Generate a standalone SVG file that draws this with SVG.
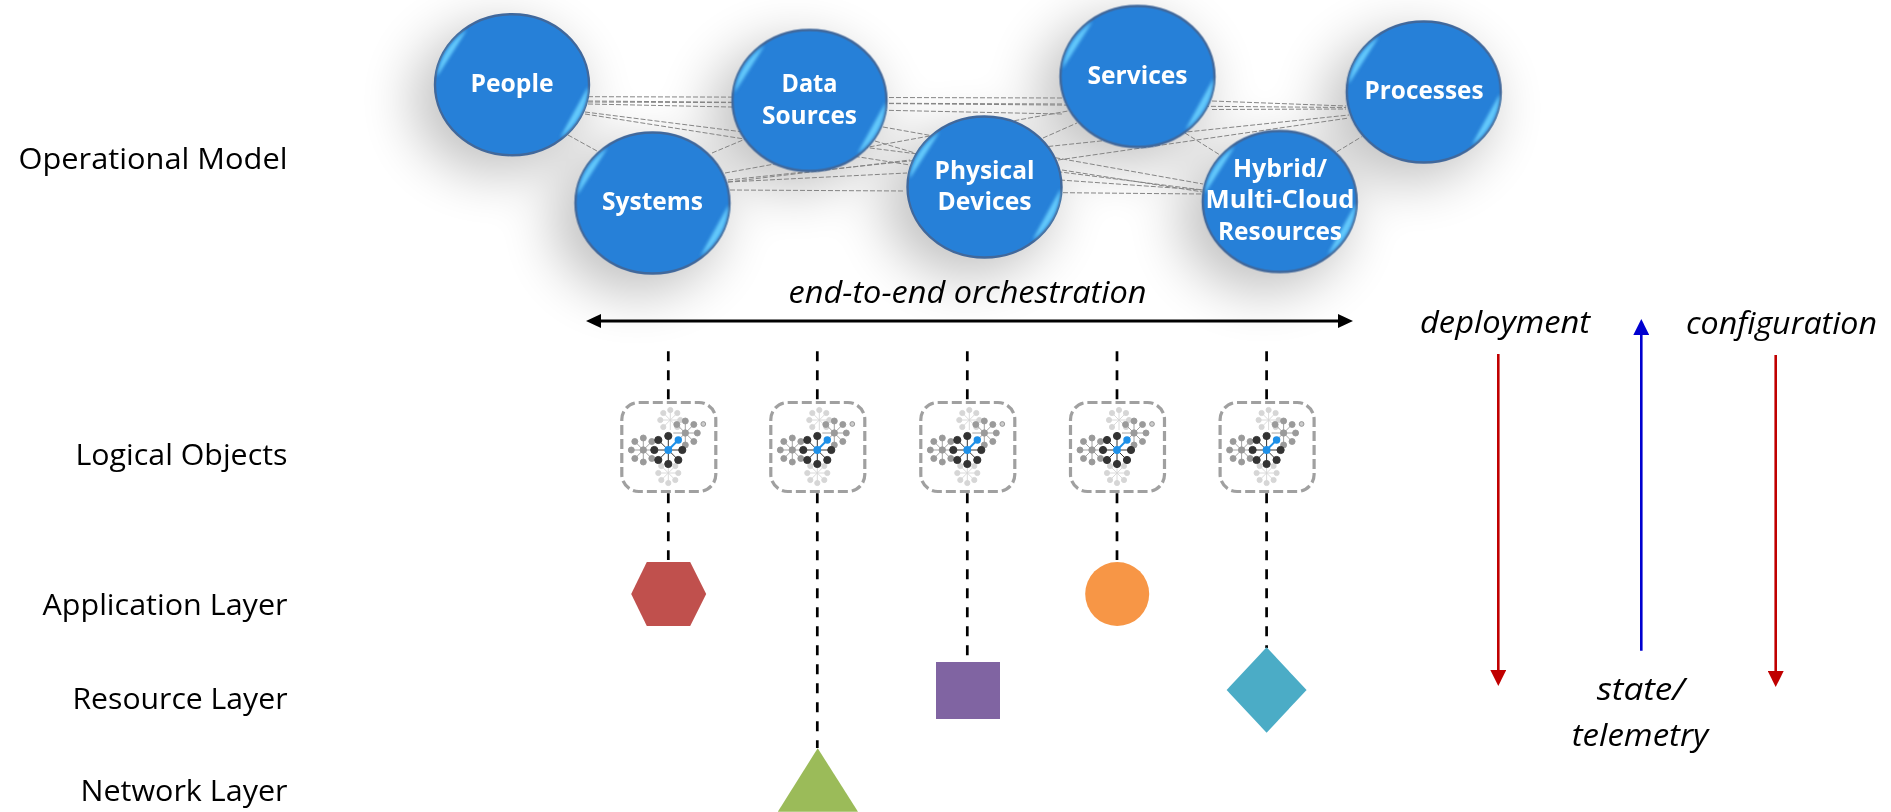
<svg xmlns="http://www.w3.org/2000/svg" xmlns:xlink="http://www.w3.org/1999/xlink" width="1891" height="812" viewBox="0 0 1891 812">
<style>
text{font-family:"Open Sans","Noto Sans","DejaVu Sans",sans-serif}
.lbl{font-size:30px;fill:#000;text-anchor:end}
.it{font-size:31px;font-style:italic;fill:#000}
.nt{font-size:25px;font-weight:700;fill:#fff;text-anchor:middle}
.mesh line{stroke:#858585;stroke-width:1;stroke-dasharray:5 2;fill:none}
.drop{stroke:#000;stroke-width:2.7;stroke-dasharray:10 9;fill:none}
.orb{fill:#2680d8;stroke:#41689b;stroke-width:2.4}
.shine{fill:#6ad0ff;opacity:.9}
.dk{fill:#333;stroke:#333}.md{fill:#9a9a9a;stroke:#9a9a9a}.lt{fill:#d6d6d6;stroke:#d6d6d6}
</style>
<defs>
<filter id="soft" x="-80%" y="-80%" width="260%" height="260%"><feGaussianBlur stdDeviation="27"/></filter>
<filter id="glow" x="-30%" y="-30%" width="160%" height="160%"><feGaussianBlur stdDeviation="1.5"/></filter>
<marker id="hRed" markerUnits="userSpaceOnUse" markerWidth="16" markerHeight="16" refX="0" refY="8" orient="auto"><path d="M0 0L16 8L0 16Z" fill="#c00000"/></marker>
<marker id="hBlue" markerUnits="userSpaceOnUse" markerWidth="16" markerHeight="16" refX="0" refY="8" orient="auto"><path d="M0 0L16 8L0 16Z" fill="#0000d0"/></marker>
<marker id="hBlack" markerUnits="userSpaceOnUse" markerWidth="16" markerHeight="16" refX="0" refY="8" orient="auto-start-reverse"><path d="M0 1L15 8L0 15Z" fill="#000"/></marker>
<g id="orb">
<ellipse class="orb" rx="77" ry="70.5"/>
<g filter="url(#glow)">
<path class="shine" d="M-75-8A75 68 0 0 1-45-55Q-57-36-75-8Z"/>
<path class="shine" d="M76 2A75 68 0 0 1 48 53Q61 29 76 2Z"/>
</g>
</g>
<g id="obj">
<rect x="-46.5" y="-44.5" width="94" height="89" rx="17" fill="#fff" stroke="#a0a0a0" stroke-width="3.2" stroke-dasharray="10 4"/>
<g class="lt" transform="translate(2,-27)" stroke-width="0.9"><path d="M0-10V10M-10 0H10M-7-7L7 7M-7 7L7-7" fill="none"/><circle r="2.6" cx="0" cy="-10"/><circle r="2.6" cx="7" cy="-7"/><circle r="2.6" cx="10" cy="0"/><circle r="2.6" cx="7" cy="7"/><circle r="2.6" cx="-7" cy="7"/><circle r="2.6" cx="-10" cy="0"/><circle r="2.6" cx="-7" cy="-7"/></g>
<g class="lt" transform="translate(0,26)" stroke-width="0.9"><path d="M0-10V10M-10 0H10M-7-7L7 7M-7 7L7-7" fill="none"/><circle r="2.6" cx="7" cy="-7"/><circle r="2.6" cx="10" cy="0"/><circle r="2.6" cx="7" cy="7"/><circle r="2.6" cx="0" cy="10"/><circle r="2.6" cx="-7" cy="7"/><circle r="2.6" cx="-10" cy="0"/><circle r="2.6" cx="-7" cy="-7"/></g>
<g class="md" transform="translate(-25,3)" stroke-width="0.9"><path d="M0-12V12M-12 0H12M-8.5-8.5L8.5 8.5M-8.5 8.5L8.5-8.5" fill="none"/><circle r="3" cx="0" cy="-12"/><circle r="3" cx="8.5" cy="-8.5"/><circle r="3" cx="8.5" cy="8.5"/><circle r="3" cx="0" cy="12"/><circle r="3" cx="-8.5" cy="8.5"/><circle r="3" cx="-12" cy="0"/><circle r="3" cx="-8.5" cy="-8.5"/><circle r="3.2" cx="0" cy="0"/></g>
<g class="md" transform="translate(17,-14)" stroke-width="0.9"><path d="M0-12V12M-12 0H12M-8.5-8.5L8.5 8.5M-8.5 8.5L8.5-8.5" fill="none"/><circle r="3" cx="0" cy="-12"/><circle r="3" cx="8.5" cy="-8.5"/><circle r="3" cx="12" cy="0"/><circle r="3" cx="8.5" cy="8.5"/><circle r="3" cx="0" cy="12"/><circle r="3" cx="-8.5" cy="-8.5"/><circle r="3.2" cx="0" cy="0"/></g>
<g class="dk" transform="translate(0,3)" stroke-width="1"><circle r="13" fill="#fff" stroke="none"/><path d="M0-14V14M-14 0H14M-10-10L10 10M-10 10L0 0" fill="none"/><circle r="3.6" cx="0" cy="-14"/><circle r="3.6" cx="14" cy="0"/><circle r="3.6" cx="10" cy="10"/><circle r="3.6" cx="0" cy="14"/><circle r="3.6" cx="-10" cy="10"/><circle r="3.6" cx="-14" cy="0"/><circle r="3.6" cx="-10" cy="-10"/><path d="M0 0L10-10" fill="none" stroke="#1e90e8" stroke-width="2"/><circle r="3.7" fill="#1e90e8" stroke="none" cx="10" cy="-10"/><circle r="3.9" fill="#1e90e8" stroke="none"/></g>
<circle cx="35" cy="-23" r="2.4" fill="#ccc" stroke="#888" stroke-width="0.8"/>
</g>
</defs>

<g id="shadows" fill="#000" opacity="0.24" filter="url(#soft)">
<ellipse cx="497" cy="100" rx="84" ry="74"/>
<ellipse cx="637" cy="220" rx="84" ry="74"/>
<ellipse cx="794" cy="116" rx="84" ry="74"/>
<ellipse cx="969" cy="203" rx="84" ry="74"/>
<ellipse cx="1122" cy="92" rx="84" ry="74"/>
<ellipse cx="1264" cy="218" rx="84" ry="74"/>
<ellipse cx="1408" cy="108" rx="84" ry="74"/>
</g>

<g id="connectors">
<g class="mesh">
<line x1="568" y1="135" x2="597" y2="151"/>
<line x1="588" y1="96.7" x2="1062" y2="98"/>
<line x1="588" y1="101" x2="1346" y2="107.5"/>
<line x1="588" y1="102" x2="1062" y2="104"/>
<line x1="588" y1="104" x2="1062" y2="114"/>
<line x1="585" y1="112" x2="1203" y2="190"/>
<line x1="585" y1="114" x2="910" y2="165"/>
<line x1="712" y1="153" x2="743" y2="140"/>
<line x1="725" y1="173" x2="1068" y2="111"/>
<line x1="728" y1="180" x2="1349" y2="115"/>
<line x1="728" y1="182" x2="907" y2="173"/>
<line x1="728" y1="182" x2="910" y2="160"/>
<line x1="730" y1="190" x2="905" y2="191"/>
<line x1="883" y1="127" x2="1203" y2="184"/>
<line x1="875" y1="141" x2="915" y2="153"/>
<line x1="1043" y1="138" x2="1077" y2="123"/>
<line x1="1063" y1="192.7" x2="1202" y2="194"/>
<line x1="1062" y1="170" x2="1203" y2="192"/>
<line x1="1060" y1="180" x2="1203" y2="190"/>
<line x1="1058" y1="160" x2="1349" y2="118"/>
<line x1="1185" y1="133" x2="1220" y2="155"/>
<line x1="1212" y1="101" x2="1346" y2="106"/>
<line x1="1212" y1="109.5" x2="1346" y2="109"/>
<line x1="1337" y1="151.7" x2="1361.7" y2="136.7"/>
</g>
<line class="drop" x1="668.3" y1="351.3" x2="668.3" y2="402"/>
<line class="drop" x1="817.3" y1="351.3" x2="817.3" y2="402"/>
<line class="drop" x1="967.3" y1="351.3" x2="967.3" y2="402"/>
<line class="drop" x1="1117" y1="351.3" x2="1117" y2="402"/>
<line class="drop" x1="1266.6" y1="351.3" x2="1266.6" y2="402"/>
<line class="drop" x1="668.3" y1="493.3" x2="668.3" y2="560"/>
<line class="drop" x1="817.3" y1="493.3" x2="817.3" y2="748"/>
<line class="drop" x1="967.3" y1="493.3" x2="967.3" y2="662"/>
<line class="drop" x1="1117" y1="493.3" x2="1117" y2="560"/>
<line class="drop" x1="1266.6" y1="493.3" x2="1266.6" y2="648"/>
<line x1="601" y1="321" x2="1338" y2="321" stroke="#000" stroke-width="3" marker-start="url(#hBlack)" marker-end="url(#hBlack)"/>
<line x1="1498.3" y1="354" x2="1498.3" y2="670" stroke="#c00000" stroke-width="2.6" marker-end="url(#hRed)"/>
<line x1="1775.7" y1="355" x2="1775.7" y2="671" stroke="#c00000" stroke-width="2.6" marker-end="url(#hRed)"/>
<line x1="1641.3" y1="650.7" x2="1641.3" y2="335" stroke="#0000d0" stroke-width="2.6" marker-end="url(#hBlue)"/>
</g>

<g id="node-people"><use xlink:href="#orb" href="#orb" x="512" y="84.7"/><text class="nt" x="512" y="91.7" textLength="83" lengthAdjust="spacingAndGlyphs">People</text></g>
<g id="node-systems"><use xlink:href="#orb" href="#orb" x="652.5" y="203"/><text class="nt" x="652.5" y="209.5" textLength="101" lengthAdjust="spacingAndGlyphs">Systems</text></g>
<g id="node-data-sources"><use xlink:href="#orb" href="#orb" x="809.5" y="100.5"/><text class="nt" x="809.5" y="91.5" textLength="56" lengthAdjust="spacingAndGlyphs">Data</text><text class="nt" x="809.5" y="124" textLength="95" lengthAdjust="spacingAndGlyphs">Sources</text></g>
<g id="node-physical-devices"><use xlink:href="#orb" href="#orb" x="984.5" y="187"/><text class="nt" x="984.5" y="178.5" textLength="100" lengthAdjust="spacingAndGlyphs">Physical</text><text class="nt" x="984.5" y="209.5" textLength="94" lengthAdjust="spacingAndGlyphs">Devices</text></g>
<g id="node-services"><use xlink:href="#orb" href="#orb" x="1137.5" y="76.5"/><text class="nt" x="1137.5" y="83.5" textLength="100" lengthAdjust="spacingAndGlyphs">Services</text></g>
<g id="node-hybrid"><use xlink:href="#orb" href="#orb" x="1279.7" y="201.5"/><text class="nt" x="1280" y="176.7" textLength="94" lengthAdjust="spacingAndGlyphs">Hybrid/</text><text class="nt" x="1280" y="208.3" textLength="149" lengthAdjust="spacingAndGlyphs">Multi-Cloud</text><text class="nt" x="1280" y="240" textLength="124" lengthAdjust="spacingAndGlyphs">Resources</text></g>
<g id="node-processes"><use xlink:href="#orb" href="#orb" x="1423.7" y="92"/><text class="nt" x="1424" y="99" textLength="119" lengthAdjust="spacingAndGlyphs">Processes</text></g>

<g id="obj-1"><use xlink:href="#obj" href="#obj" x="668.3" y="447"/></g>
<g id="obj-2"><use xlink:href="#obj" href="#obj" x="817.3" y="447"/></g>
<g id="obj-3"><use xlink:href="#obj" href="#obj" x="967.3" y="447"/></g>
<g id="obj-4"><use xlink:href="#obj" href="#obj" x="1117" y="447"/></g>
<g id="obj-5"><use xlink:href="#obj" href="#obj" x="1266.6" y="447"/></g>

<g id="app-hexagon"><polygon points="631.2,594 646.8,562 690.2,562 706.2,594 690.2,626 646.8,626" fill="#c0504d"/></g>
<g id="app-circle"><circle cx="1117.2" cy="594" r="32" fill="#f79646"/></g>
<g id="res-square"><rect x="936" y="662" width="64" height="57" fill="#8064a2"/></g>
<g id="res-diamond"><polygon points="1266.6,647.3 1306.6,690 1266.6,732.7 1226.6,690" fill="#4bacc6"/></g>
<g id="net-triangle"><polygon points="817.7,748.3 858,811.7 777.8,811.7" fill="#9bbb59"/></g>

<g id="labels">
<text class="lbl" x="287.5" y="168.5" textLength="269" lengthAdjust="spacingAndGlyphs">Operational Model</text>
<text class="lbl" x="287.5" y="465" textLength="212" lengthAdjust="spacingAndGlyphs">Logical Objects</text>
<text class="lbl" x="287.5" y="614.5" textLength="245" lengthAdjust="spacingAndGlyphs">Application Layer</text>
<text class="lbl" x="287.5" y="709" textLength="215" lengthAdjust="spacingAndGlyphs">Resource Layer</text>
<text class="lbl" x="287.5" y="801" textLength="207" lengthAdjust="spacingAndGlyphs">Network Layer</text>
<text class="it" x="788.5" y="303" textLength="358" lengthAdjust="spacingAndGlyphs">end-to-end orchestration</text>
<text class="it" x="1420" y="333.3" textLength="170" lengthAdjust="spacingAndGlyphs">deployment</text>
<text class="it" x="1686" y="334" textLength="191" lengthAdjust="spacingAndGlyphs">configuration</text>
<text class="it" x="1596.7" y="699.7" textLength="88" lengthAdjust="spacingAndGlyphs">state/</text>
<text class="it" x="1571.7" y="745.5" textLength="136.6" lengthAdjust="spacingAndGlyphs">telemetry</text>
</g>
</svg>
